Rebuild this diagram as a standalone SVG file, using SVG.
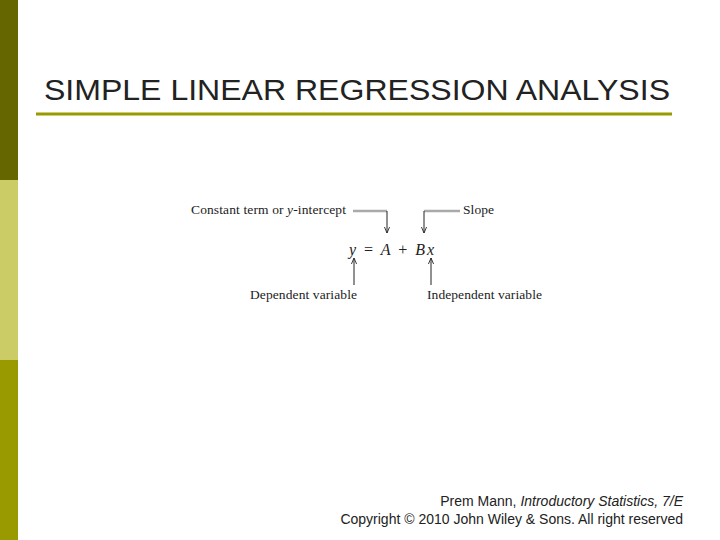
<svg xmlns="http://www.w3.org/2000/svg" width="720" height="540" viewBox="0 0 720 540">
<style>
.s{font-family:"Liberation Serif",serif;font-size:13.5px;fill:#222}
.a{stroke:#222;stroke-width:1;fill:none}
.g{stroke:#aaa;stroke-width:2.5;fill:none}
</style>
<defs><marker id="m" viewBox="0 0 8 8" refX="7" refY="4" markerWidth="7" markerHeight="7" orient="auto"><path d="M0,1 L7,4 L0,7" fill="none" stroke="#222" stroke-width="1"/></marker></defs>
<rect width="720" height="540" fill="#fff"/>
<rect x="0" y="0" width="18" height="180" fill="#666600"/>
<rect x="0" y="180" width="18" height="180" fill="#cccc66"/>
<rect x="0" y="360" width="18" height="180" fill="#999900"/>
<text x="44" y="100" textLength="626" lengthAdjust="spacingAndGlyphs" font-family="Liberation Sans,sans-serif" font-size="29" fill="#222">SIMPLE LINEAR REGRESSION ANALYSIS</text>
<line x1="36" y1="114" x2="672" y2="114" stroke="#999900" stroke-width="3"/>
<g id="connectors">
<path class="g" d="M353,211 H387"/><path class="a" d="M387,211 V233" marker-end="url(#m)"/>
<path class="g" d="M424,211 H460"/><path class="a" d="M424,211 V233" marker-end="url(#m)"/>
<path class="a" d="M354,285 V258" marker-end="url(#m)"/>
<path class="a" d="M431,285 V258" marker-end="url(#m)"/>
</g>
<g id="intercept"><text class="s" x="191" y="214" textLength="155">Constant term or <tspan font-style="italic">y</tspan>-intercept</text></g>
<g id="slope"><text class="s" x="463" y="214" textLength="31">Slope</text></g>
<g id="equation"><text x="349" y="255" textLength="85" font-family="Liberation Serif,serif" font-size="16" fill="#222"><tspan font-style="italic">y</tspan> = <tspan font-style="italic">A</tspan> + <tspan font-style="italic">Bx</tspan></text></g>
<g id="dependent"><text class="s" x="250" y="299" textLength="107">Dependent variable</text></g>
<g id="independent"><text class="s" x="427" y="299" textLength="115">Independent variable</text></g>
<text x="683" y="506" text-anchor="end" font-family="Liberation Sans,sans-serif" font-size="14" fill="#222">Prem Mann, <tspan font-style="italic">Introductory Statistics, 7/E</tspan></text>
<text x="683" y="524" text-anchor="end" font-family="Liberation Sans,sans-serif" font-size="14" fill="#222">Copyright © 2010 John Wiley &amp; Sons. All right reserved</text>
</svg>
